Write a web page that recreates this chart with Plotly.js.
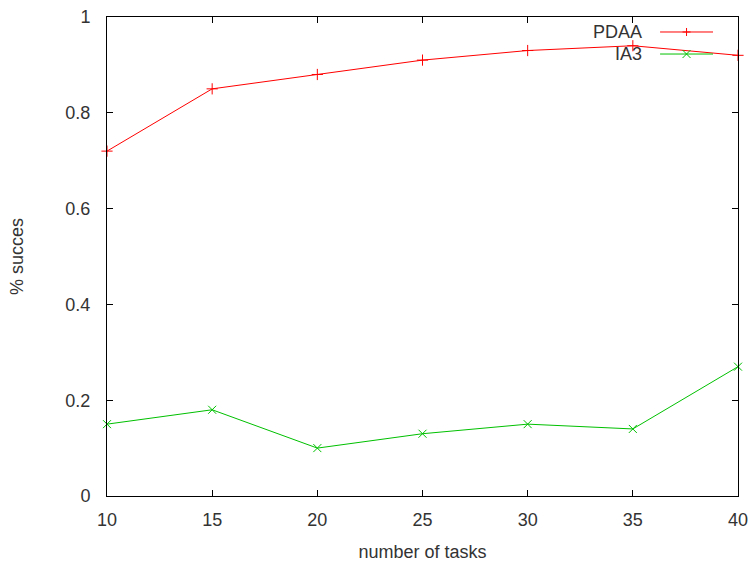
<!DOCTYPE html>
<html>
<head>
<meta charset="utf-8">
<script src="https://cdn.plot.ly/plotly-3.0.1.min.js"></script>
<style>html,body{margin:0;padding:0;background:#fff;}#chart{width:749px;height:567px;}</style>
</head>
<body>
<div id="chart"></div>
<script>
const tasks = [10, 15, 20, 25, 30, 35, 40];
const pdaa = [0.72, 0.85, 0.88, 0.91, 0.93, 0.94, 0.92];
const ia3 = [0.15, 0.18, 0.10, 0.13, 0.15, 0.14, 0.27];
const seriesNames = ['PDAA', 'IA3'];
const seriesColors = ['#ff0000', '#00c000'];
const seriesSymbols = ['cross-thin-open', 'x-thin-open'];

const fontFam = '"Liberation Sans", Arial, sans-serif';
const textCol = '#333333';

const traces = [pdaa, ia3].map((ys, i) => ({
  x: tasks, y: ys, type: 'scatter', mode: 'lines+markers', name: seriesNames[i],
  line: {color: seriesColors[i], width: 1},
  marker: {symbol: seriesSymbols[i], size: 8, line: {color: seriesColors[i], width: 1}},
  showlegend: false, cliponaxis: false
}));

// gnuplot-style key (text right-aligned, sample line to the right)
const keyTextX = 0.851, keyLineX0 = 0.8765, keyLineX1 = 0.9604, keyYs = [0.9687, 0.9227];
const shapes = [], annotations = [];
seriesNames.forEach((n, i) => {
  annotations.push({xref: 'paper', yref: 'paper', x: keyTextX, y: keyYs[i], xanchor: 'right', yanchor: 'middle',
    text: n, showarrow: false, font: {family: fontFam, size: 18, color: textCol}});
  shapes.push({type: 'line', xref: 'paper', yref: 'paper', x0: keyLineX0, x1: keyLineX1, y0: keyYs[i], y1: keyYs[i],
    line: {color: seriesColors[i], width: 1}});
});
// key marker glyphs
const pw = 631.5, ph = 478.7, mx = (keyLineX0 + keyLineX1) / 2, r = 4;
const dx = r/pw, dy = r/ph;
shapes.push({type:'path', xref:'paper', yref:'paper',
  path:`M${mx-dx},${keyYs[0]} L${mx+dx},${keyYs[0]} M${mx},${keyYs[0]-dy} L${mx},${keyYs[0]+dy}`,
  line:{color:seriesColors[0], width:1}});
shapes.push({type:'path', xref:'paper', yref:'paper',
  path:`M${mx-dx},${keyYs[1]-dy} L${mx+dx},${keyYs[1]+dy} M${mx-dx},${keyYs[1]+dy} L${mx+dx},${keyYs[1]-dy}`,
  line:{color:seriesColors[1], width:1}});

const axisCommon = {
  showgrid: false, zeroline: false, showline: true, linecolor: '#000', linewidth: 1,
  mirror: 'ticks', ticks: 'inside', ticklen: 6, tickcolor: '#000', tickwidth: 1,
  tickfont: {family: fontFam, size: 18, color: textCol}
};

const layout = {
  width: 749, height: 567,
  margin: {l: 106.5, r: 11, t: 17, b: 71.3, pad: 0},
  paper_bgcolor: '#fff', plot_bgcolor: '#fff',
  showlegend: false,
  xaxis: Object.assign({}, axisCommon, {range: [10, 40], dtick: 5, tick0: 10, ticklabelstandoff: 7,
    title: {text: 'number of tasks', font: {family: fontFam, size: 18, color: textCol}, standoff: 16}}),
  yaxis: Object.assign({}, axisCommon, {range: [0, 1], dtick: 0.2, tick0: 0, ticklabelstandoff: 12,
    title: {text: '% succes', font: {family: fontFam, size: 18, color: textCol}, standoff: 37}}),
  shapes: shapes, annotations: annotations
};

Plotly.newPlot('chart', traces, layout, {displayModeBar: false, staticPlot: true});
</script>
</body>
</html>
